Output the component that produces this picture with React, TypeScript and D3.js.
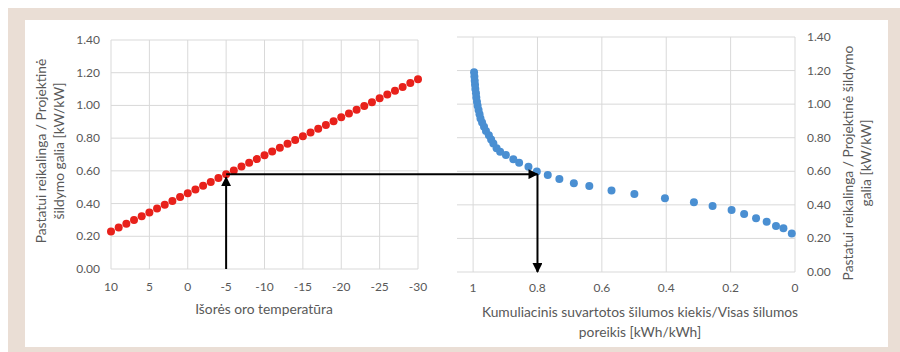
import React from "react";
import * as d3 from "d3";

// outdoor temperature (left chart x)
const temps = [
  10, 9, 8, 7, 6, 5, 4, 3, 2, 1, 0, -1, -2, -3, -4, -5, -6, -7, -8, -9, -10,
  -11, -12, -13, -14, -15, -16, -17, -18, -19, -20, -21, -22, -23, -24, -25,
  -26, -27, -28, -29, -30,
];
// required / design heating power [kW/kW]
const powerRatio = [
  0.23, 0.253, 0.277, 0.3, 0.323, 0.346, 0.37, 0.393, 0.416, 0.44, 0.463,
  0.486, 0.509, 0.532, 0.556, 0.579, 0.602, 0.626, 0.649, 0.672, 0.695, 0.719,
  0.742, 0.765, 0.788, 0.811, 0.835, 0.858, 0.881, 0.904, 0.928, 0.951, 0.974,
  0.997, 1.02, 1.044, 1.067, 1.09, 1.113, 1.137, 1.16,
];
// cumulative heat share (right chart x)
const cumShare = [
  0.01, 0.036, 0.059, 0.088, 0.121, 0.158, 0.197, 0.256, 0.314, 0.404, 0.499,
  0.57, 0.639, 0.687, 0.732, 0.768, 0.802, 0.828, 0.857, 0.875, 0.898, 0.916,
  0.927, 0.937, 0.944, 0.951, 0.96, 0.966, 0.972, 0.977, 0.98, 0.983, 0.986,
  0.988, 0.99, 0.991, 0.993, 0.994, 0.995, 0.996, 0.997,
];
const cumPower = [
  0.23, 0.26, 0.274, 0.3, 0.32, 0.345, 0.37, 0.393, 0.415, 0.44, 0.465, 0.485,
  0.512, 0.528, 0.554, 0.578, 0.598, 0.627, 0.651, 0.671, 0.697, 0.717, 0.737,
  0.766, 0.79, 0.815, 0.84, 0.865, 0.89, 0.915, 0.94, 0.965, 0.99, 1.015, 1.04,
  1.065, 1.09, 1.115, 1.14, 1.165, 1.19,
];

const leftXTicks = [10, 5, 0, -5, -10, -15, -20, -25, -30];
const rightXTicks = [1, 0.8, 0.6, 0.4, 0.2, 0];
const yTicks = [0, 0.2, 0.4, 0.6, 0.8, 1.0, 1.2, 1.4];

// reading shown by the arrows
const readTemp = -5;
const readPower = 0.58;
const readShare = 0.8;

const FONT = "Lato, 'Liberation Sans', sans-serif";
const GRID = "#d9d9d9";
const TXT = "#595959";
const TITLE = 13.8;
const TICK = 12;

export default function App() {
  const xL = d3.scaleLinear().domain([10, -30]).range([111, 418]);
  const yL = d3.scaleLinear().domain([0, 1.4]).range([269, 40]);
  const xR = d3.scaleLinear().domain([1.05, 0]).range([457, 795]);
  const yR = d3.scaleLinear().domain([0, 1.4]).range([272, 37]);
  const fmt = d3.format(".2f");

  return (
    <svg
      width={900}
      height={352}
      style={{ position: "absolute", left: 0, top: 0 }}
      fontFamily={FONT}
    >
      <defs>
        <marker
          id="arr"
          viewBox="0 0 10 10"
          refX="9"
          refY="5"
          markerWidth="5"
          markerHeight="5"
          orient="auto"
        >
          <path d="M0,0 L10,5 L0,10 z" fill="#000" />
        </marker>
      </defs>
      <rect x={0} y={0} width={900} height={352} fill="#fff" />
      <rect x={8} y={8} width={892} height={344} fill="#eaded5" />
      <rect x={25} y={20} width={863} height={327} fill="#fff" />

      {/* left chart grid */}
      {yTicks.map((t) => (
        <line key={"lh" + t} x1={xL(10)} x2={xL(-30)} y1={yL(t)} y2={yL(t)} stroke={GRID} />
      ))}
      {leftXTicks.map((t) => (
        <line key={"lv" + t} x1={xL(t)} x2={xL(t)} y1={yL(0)} y2={yL(1.4)} stroke={GRID} />
      ))}
      {yTicks.map((t) => (
        <text key={"ly" + t} x={100} y={yL(t) + 4} textAnchor="end" fontSize={TICK} fill={TXT}>
          {fmt(t)}
        </text>
      ))}
      {leftXTicks.map((t) => (
        <text key={"lx" + t} x={xL(t)} y={291} textAnchor="middle" fontSize={TICK} fill={TXT}>
          {t === 0 ? "0" : t > 0 ? String(t) : "-" + Math.abs(t)}
        </text>
      ))}
      <text x={264} y={314} textAnchor="middle" fontSize={TITLE} fill={TXT}>
        Išorės oro temperatūra
      </text>
      <g transform="translate(46,151) rotate(-90)">
        <text x={0} y={0} textAnchor="middle" fontSize={TITLE} fill={TXT}>
          Pastatui reikalinga / Projektinė
        </text>
        <text x={0} y={18} textAnchor="middle" fontSize={TITLE} fill={TXT}>
          šildymo galia [kW/kW]
        </text>
      </g>

      {/* right chart grid */}
      {yTicks.map((t) => (
        <line key={"rh" + t} x1={xR(1.05)} x2={xR(0)} y1={yR(t)} y2={yR(t)} stroke={GRID} />
      ))}
      {rightXTicks.map((t) => (
        <line key={"rv" + t} x1={xR(t)} x2={xR(t)} y1={yR(0)} y2={yR(1.4)} stroke={GRID} />
      ))}
      {yTicks.map((t) => (
        <text key={"ry" + t} x={807} y={yR(t) + 4} textAnchor="start" fontSize={TICK} fill={TXT}>
          {fmt(t)}
        </text>
      ))}
      {rightXTicks.map((t) => (
        <text key={"rx" + t} x={xR(t)} y={292} textAnchor="middle" fontSize={TICK} fill={TXT}>
          {String(t)}
        </text>
      ))}
      <text x={640} y={317} textAnchor="middle" fontSize={TITLE} fill={TXT}>
        Kumuliacinis suvartotos šilumos kiekis/Visas šilumos
      </text>
      <text x={640} y={337} textAnchor="middle" fontSize={TITLE} fill={TXT}>
        poreikis [kWh/kWh]
      </text>
      <g transform="translate(853,163) rotate(-90)">
        <text x={0} y={0} textAnchor="middle" fontSize={TITLE} fill={TXT}>
          Pastatui reikalinga / Projektinė šildymo
        </text>
        <text x={0} y={18} textAnchor="middle" fontSize={TITLE} fill={TXT}>
          galia [kW/kW]
        </text>
      </g>

      {/* data */}
      {temps.map((t, i) => (
        <circle key={"r" + i} cx={xL(t)} cy={yL(powerRatio[i])} r={4} fill="#e8211b" />
      ))}
      {cumShare.map((s, i) => (
        <circle key={"b" + i} cx={xR(s)} cy={yR(cumPower[i])} r={4} fill="#4a8fd2" />
      ))}

      {/* reading arrows */}
      <line
        x1={xL(readTemp)}
        y1={yL(0)}
        x2={xL(readTemp)}
        y2={yL(readPower) + 3}
        stroke="#000"
        strokeWidth={2}
        markerEnd="url(#arr)"
      />
      <line
        x1={xL(readTemp)}
        y1={yL(readPower)}
        x2={xR(readShare)}
        y2={yL(readPower)}
        stroke="#000"
        strokeWidth={2}
        markerEnd="url(#arr)"
      />
      <line
        x1={xR(readShare)}
        y1={yL(readPower)}
        x2={xR(readShare)}
        y2={yR(0)}
        stroke="#000"
        strokeWidth={2}
        markerEnd="url(#arr)"
      />
    </svg>
  );
}
